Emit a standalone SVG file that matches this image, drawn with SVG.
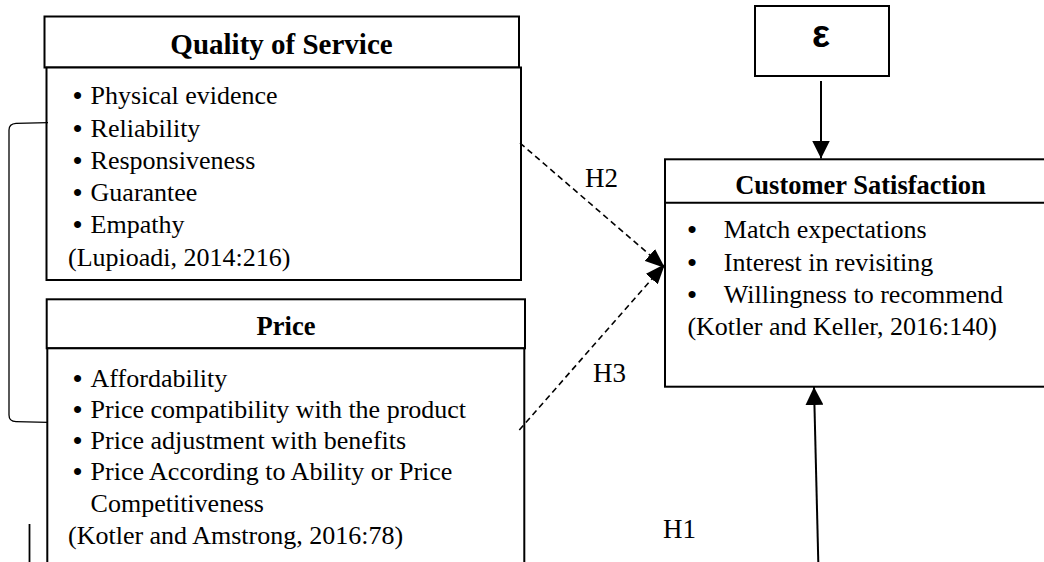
<svg xmlns="http://www.w3.org/2000/svg" width="1044" height="562" viewBox="0 0 1044 562">
<style>
.box{fill:#fff;stroke:#000;stroke-width:2}
.t{font-family:"Liberation Serif","Times New Roman",serif;font-size:26px;fill:#000}
.b{font-weight:bold}
.h{font-family:"Liberation Serif","Times New Roman",serif;font-weight:bold;fill:#000;text-anchor:middle}
.lbl{font-family:"Liberation Serif","Times New Roman",serif;font-size:27px;fill:#000}
.solid{fill:none;stroke:#000;stroke-width:2}
.dash{fill:none;stroke:#000;stroke-width:1.6;stroke-dasharray:6 4}
.thin{fill:none;stroke:#000;stroke-width:1.3}
</style>
<defs>
<marker id="ah" markerUnits="userSpaceOnUse" markerWidth="18" markerHeight="18" viewBox="0 0 16 16" refX="16" refY="8" orient="auto">
<path d="M0,0 L16,8 L0,16 Z" fill="#000"/>
</marker>
<marker id="ahs" markerUnits="userSpaceOnUse" markerWidth="20" markerHeight="16" viewBox="0 0 19 15" refX="19" refY="7.5" orient="auto">
<path d="M0,0 L19,7.5 L0,15 Z" fill="#000"/>
</marker>
</defs>

<g id="quality">
<rect class="box" x="44.5" y="16.5" width="474.5" height="51"/>
<rect class="box" x="46.5" y="67.5" width="474.5" height="212.5"/>
<text class="h" x="281.5" y="54.3" font-size="29">Quality of Service</text>
<text class="t"><tspan class="b" x="73" y="104.3">•</tspan><tspan x="90.6">Physical evidence</tspan></text>
<text class="t"><tspan class="b" x="73" y="136.5">•</tspan><tspan x="90.6">Reliability</tspan></text>
<text class="t"><tspan class="b" x="73" y="168.7">•</tspan><tspan x="90.6">Responsiveness</tspan></text>
<text class="t"><tspan class="b" x="73" y="201">•</tspan><tspan x="90.6">Guarantee</tspan></text>
<text class="t"><tspan class="b" x="73" y="233.3">•</tspan><tspan x="90.6">Empathy</tspan></text>
<text class="t" x="68" y="265.5">(Lupioadi, 2014:216)</text>
</g>

<g id="price">
<rect class="box" x="46.7" y="299.3" width="478.3" height="49"/>
<rect class="box" x="47.3" y="348.3" width="477" height="230"/>
<text class="h" x="286" y="334.5" font-size="26.5">Price</text>
<text class="t"><tspan class="b" x="73" y="387">•</tspan><tspan x="90.6">Affordability</tspan></text>
<text class="t"><tspan class="b" x="73" y="418">•</tspan><tspan x="90.6">Price compatibility with the product</tspan></text>
<text class="t"><tspan class="b" x="73" y="449">•</tspan><tspan x="90.6">Price adjustment with benefits</tspan></text>
<text class="t"><tspan class="b" x="73" y="480">•</tspan><tspan x="90.6">Price According to Ability or Price</tspan></text>
<text class="t" x="90.6" y="512">Competitiveness</text>
<text class="t" x="68" y="544">(Kotler and Amstrong, 2016:78)</text>
</g>

<g id="epsilon">
<rect class="box" x="755" y="6" width="134" height="70"/>
<text x="821" y="47" font-family="'Liberation Sans',Arial,sans-serif" font-weight="bold" font-size="38" text-anchor="middle">ε</text>
</g>

<g id="satisfaction">
<rect class="box" x="665" y="159.3" width="400" height="227.4"/>
<line class="solid" x1="665" y1="202.7" x2="1050" y2="202.7"/>
<text class="h" x="860.5" y="194" font-size="26.5">Customer Satisfaction</text>
<text class="t"><tspan class="b" x="687.5" y="238">•</tspan><tspan x="723.8">Match expectations</tspan></text>
<text class="t"><tspan class="b" x="687.5" y="270.5">•</tspan><tspan x="723.8">Interest in revisiting</tspan></text>
<text class="t"><tspan class="b" x="687.5" y="302.5">•</tspan><tspan x="723.8">Willingness to recommend</tspan></text>
<text class="t" x="687.4" y="335">(Kotler and Keller, 2016:140)</text>
</g>

<g id="connectors">
<path class="thin" d="M48,122.7 L16,123.3 Q9,123.8 9,130 L9,415 Q9,421.5 16,421.7 L48,422.3"/>
<line class="thin" x1="29.5" y1="524" x2="29.5" y2="562" style="stroke-width:1.8"/>
<line class="solid" x1="821" y1="81" x2="821" y2="158.5" marker-end="url(#ah)"/>
<line class="solid" x1="818.3" y1="562" x2="814" y2="387" marker-end="url(#ah)"/>
<line class="dash" x1="520" y1="143" x2="665" y2="268" marker-end="url(#ahs)"/>
<line class="dash" x1="519.3" y1="430" x2="665" y2="264" marker-end="url(#ahs)"/>
<text class="lbl" x="585" y="186.7">H2</text>
<text class="lbl" x="593" y="381.7">H3</text>
<text class="lbl" x="663" y="538.3">H1</text>
</g>
</svg>
